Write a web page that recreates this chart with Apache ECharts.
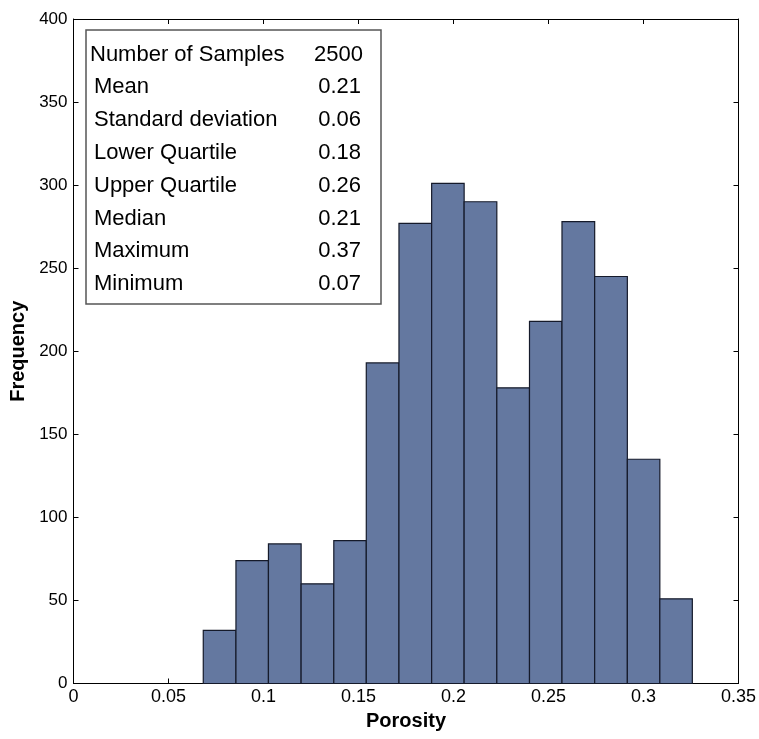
<!DOCTYPE html>
<html><head><meta charset="utf-8">
<script src="https://cdn.jsdelivr.net/npm/echarts@6/dist/echarts.min.js"></script>
<style>html,body{margin:0;padding:0;background:#fff}#c{width:759px;height:739px}</style>
</head><body><div id="c"></div>
<script>
// Histogram bin edges (porosity) and counts
const binEdges = [0.0683, 0.0855, 0.1026, 0.1198, 0.1370, 0.1541, 0.1713, 0.1885, 0.2056, 0.2228, 0.2400, 0.2571, 0.2743, 0.2915, 0.3086, 0.3257];
const counts = [32, 74, 84, 60, 86, 193, 277, 301, 290, 178, 218, 278, 245, 135, 51];
const xTicks = [0, 0.05, 0.1, 0.15, 0.2, 0.25, 0.3, 0.35];
const yTicks = [0, 50, 100, 150, 200, 250, 300, 350, 400];
const statLabels = ['Number of Samples', 'Mean', 'Standard deviation', 'Lower Quartile', 'Upper Quartile', 'Median', 'Maximum', 'Minimum'];
const statValues = ['2500', '0.21', '0.06', '0.18', '0.26', '0.21', '0.37', '0.07'];

const bins = counts.map((c, i) => [binEdges[i], binEdges[i + 1], c]);

const chart = echarts.init(document.getElementById('c'), null, {renderer: 'canvas'});
const FONT = 'Liberation Sans, Arial, sans-serif';

const graphics = [{
  type: 'rect', shape: {x: 86, y: 30, width: 295, height: 274},
  style: {fill: '#fff', stroke: '#555', lineWidth: 1.5}, z: 100
}];
statLabels.forEach((t, i) => {
  const y = 54.5 + i * 32.8;
  graphics.push({type: 'text', x: i === 0 ? 90 : 94, y: y, z: 101,
    style: {text: t, font: '22px ' + FONT, fill: '#000', textVerticalAlign: 'middle', textAlign: 'left'}});
  graphics.push({type: 'text', x: i === 0 ? 363 : 361, y: y, z: 101,
    style: {text: statValues[i], font: '22px ' + FONT, fill: '#000', textVerticalAlign: 'middle', textAlign: 'right'}});
});

function mkAxis(extra) {
  return Object.assign({
    type: 'value', min: 0, show: true, scale: false,
    axisLine: {show: true, onZero: false, lineStyle: {color: '#000', width: 1}},
    axisTick: {show: true, inside: true, length: 5, lineStyle: {color: '#000', width: 1}},
    splitLine: {show: false}
  }, extra);
}

chart.setOption({
  animation: false,
  backgroundColor: '#fff',
  grid: {left: 73.5, right: 20.5, top: 19, bottom: 55.5, containLabel: false, outerBoundsMode: 'none'},
  xAxis: [
    mkAxis({
      max: 0.35, interval: 0.05, position: 'bottom',
      name: 'Porosity', nameLocation: 'middle', nameGap: 28,
      nameTextStyle: {fontFamily: FONT, fontWeight: 'bold', fontSize: 20, color: '#000'},
      axisLabel: {show: true, fontFamily: FONT, fontSize: 18, color: '#000', margin: 5,
        formatter: v => { const t = xTicks.find(k => Math.abs(k - v) < 1e-9); return t === undefined ? '' : String(t); }}
    }),
    mkAxis({max: 0.35, interval: 0.05, position: 'top', axisLabel: {show: false}})
  ],
  yAxis: [
    mkAxis({
      max: 400, interval: 50, position: 'left',
      name: 'Frequency', nameLocation: 'middle', nameGap: 43,
      nameTextStyle: {fontFamily: FONT, fontWeight: 'bold', fontSize: 20, color: '#000'},
      axisLabel: {show: true, fontFamily: FONT, fontSize: 17, color: '#000', margin: 6,
        formatter: v => { const t = yTicks.find(k => k === v); return t === undefined ? '' : String(t); }}
    }),
    mkAxis({max: 400, interval: 50, position: 'right', axisLabel: {show: false}})
  ],
  graphic: graphics,
  series: [{
    type: 'custom',
    xAxisIndex: 0, yAxisIndex: 0,
    data: bins,
    encode: {x: [0, 1], y: 2},
    renderItem: function (params, api) {
      const p0 = api.coord([api.value(0), api.value(2)]);
      const p1 = api.coord([api.value(1), 0]);
      return {
        type: 'rect',
        shape: {x: p0[0], y: p0[1], width: p1[0] - p0[0], height: p1[1] - p0[1]},
        style: {fill: '#6478a0', stroke: '#151a2a', lineWidth: 1.2}
      };
    }
  }]
});
</script></body></html>
